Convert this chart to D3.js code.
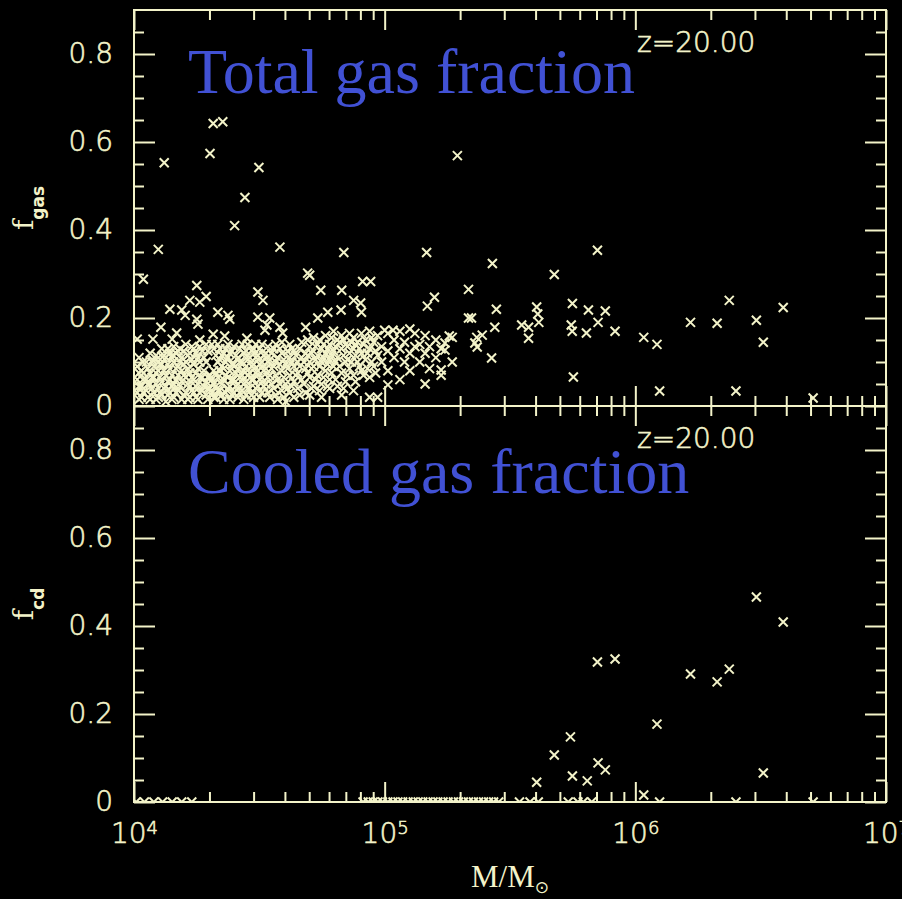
<!DOCTYPE html>
<html>
<head>
<meta charset="utf-8">
<script src="https://cdn.jsdelivr.net/npm/d3@7"></script>
<style>
  body { margin: 0; background: #000; }
  svg { display: block; }
  .axis text { fill: #f3f3c9; stroke: #f3f3c9; stroke-width: 0.6px; font-family: "DejaVu Sans", sans-serif; font-weight: 200; font-size: 28px; }
  .axis line { stroke: #f3f3c9; stroke-width: 2px; }
</style>
</head>
<body>
<div id="chart"></div>
<script>
// ---- data ----
const massTicks = [1e4, 1e5, 1e6, 1e7];
const fracTicks = [0, 0.2, 0.4, 0.6, 0.8];
const panelTitles = ['Total gas fraction', 'Cooled gas fraction'];
const yTitles = [['f', 'gas'], ['f', 'cd']];
const redshiftLabel = 'z=20.00';

// [halo mass (Msun), total gas fraction]
const totalGas = [
  // dense low-mass cloud
  [1.03e4,0.03],[1.03e4,0.06],[1.03e4,0.09],[1.07e4,0.02],[1.07e4,0.045],[1.07e4,0.08],
  [1.12e4,0.035],[1.12e4,0.06],[1.12e4,0.1],[1.16e4,0.015],[1.16e4,0.05],[1.16e4,0.075],[1.16e4,0.12],
  [1.2e4,0.03],[1.2e4,0.065],[1.2e4,0.09],[1.25e4,0.02],[1.25e4,0.04],[1.25e4,0.08],[1.25e4,0.11],
  [1.29e4,0.025],[1.29e4,0.055],[1.29e4,0.095],[1.29e4,0.13],[1.34e4,0.01],[1.34e4,0.045],[1.34e4,0.07],[1.34e4,0.11],
  [1.39e4,0.03],[1.39e4,0.06],[1.39e4,0.085],[1.39e4,0.12],[1.44e4,0.02],[1.44e4,0.05],[1.44e4,0.1],[1.44e4,0.135],
  [1.5e4,0.035],[1.5e4,0.07],[1.5e4,0.09],[1.5e4,0.125],[1.55e4,0.015],[1.55e4,0.055],[1.55e4,0.08],[1.55e4,0.11],
  [1.61e4,0.03],[1.61e4,0.065],[1.61e4,0.1],[1.61e4,0.14],[1.67e4,0.02],[1.67e4,0.045],[1.67e4,0.075],[1.67e4,0.12],
  [1.73e4,0.03],[1.73e4,0.06],[1.73e4,0.095],[1.73e4,0.13],[1.8e4,0.015],[1.8e4,0.05],[1.8e4,0.085],[1.8e4,0.11],
  [1.87e4,0.035],[1.87e4,0.065],[1.87e4,0.125],[1.94e4,0.025],[1.94e4,0.055],[1.94e4,0.1],[1.94e4,0.14],
  [2.01e4,0.04],[2.01e4,0.07],[2.08e4,0.02],[2.08e4,0.05],[2.08e4,0.08],[2.08e4,0.13],
  [2.16e4,0.035],[2.16e4,0.065],[2.16e4,0.1],[2.16e4,0.14],[2.24e4,0.025],[2.24e4,0.05],[2.24e4,0.09],[2.24e4,0.115],
  [2.32e4,0.03],[2.32e4,0.07],[2.32e4,0.1],[2.32e4,0.13],[2.41e4,0.015],[2.41e4,0.045],[2.41e4,0.08],[2.41e4,0.12],
  [2.5e4,0.03],[2.5e4,0.06],[2.5e4,0.095],[2.5e4,0.135],[2.6e4,0.02],[2.6e4,0.05],[2.6e4,0.085],[2.6e4,0.11],
  [2.7e4,0.035],[2.7e4,0.07],[2.7e4,0.1],[2.7e4,0.14],[2.8e4,0.025],[2.8e4,0.055],[2.8e4,0.09],[2.8e4,0.125],
  [2.9e4,0.04],[2.9e4,0.075],[2.9e4,0.11],[3.0e4,0.02],[3.0e4,0.06],[3.0e4,0.095],[3.0e4,0.13],
  [3.12e4,0.045],[3.12e4,0.08],[3.12e4,0.115],[3.24e4,0.03],[3.24e4,0.065],[3.24e4,0.1],[3.24e4,0.14],
  [3.36e4,0.05],[3.36e4,0.085],[3.36e4,0.12],[3.48e4,0.02],[3.48e4,0.07],[3.48e4,0.105],
  [3.61e4,0.04],[3.61e4,0.09],[3.61e4,0.13],[3.74e4,0.015],[3.74e4,0.06],[3.74e4,0.11],
  [3.89e4,0.035],[3.89e4,0.08],[3.89e4,0.12],[3.89e4,0.145],[4.03e4,0.01],[4.03e4,0.05],[4.03e4,0.095],
  [1.047e4,0.015],[1.047e4,0.045],[1.047e4,0.075],[1.047e4,0.11],[1.086e4,0.03],[1.086e4,0.06],[1.086e4,0.1],
  [1.137e4,0.02],[1.137e4,0.05],[1.137e4,0.085],[1.18e4,0.04],[1.18e4,0.065],[1.18e4,0.1],
  [1.224e4,0.015],[1.224e4,0.05],[1.224e4,0.075],[1.224e4,0.115],[1.269e4,0.03],[1.269e4,0.065],[1.269e4,0.095],
  [1.317e4,0.04],[1.317e4,0.08],[1.317e4,0.115],[1.365e4,0.025],[1.365e4,0.055],[1.365e4,0.095],[1.365e4,0.13],
  [1.417e4,0.015],[1.417e4,0.045],[1.417e4,0.07],[1.417e4,0.11],[1.47e4,0.03],[1.47e4,0.06],[1.47e4,0.085],[1.47e4,0.12],
  [1.525e4,0.045],[1.525e4,0.1],[1.525e4,0.13],[1.58e4,0.025],[1.58e4,0.07],[1.58e4,0.095],[1.58e4,0.125],
  [1.64e4,0.015],[1.64e4,0.05],[1.64e4,0.085],[1.64e4,0.115],[1.7e4,0.035],[1.7e4,0.065],[1.7e4,0.105],[1.7e4,0.135],
  [1.766e4,0.02],[1.766e4,0.045],[1.766e4,0.075],[1.766e4,0.12],[1.83e4,0.03],[1.83e4,0.065],[1.83e4,0.1],[1.83e4,0.135],
  [1.9e4,0.045],[1.9e4,0.08],[1.9e4,0.11],[1.97e4,0.015],[1.97e4,0.04],[1.97e4,0.065],[1.97e4,0.125],
  [2.045e4,0.03],[2.045e4,0.06],[2.045e4,0.14],[2.12e4,0.02],[2.12e4,0.045],[2.12e4,0.075],[2.12e4,0.115],
  [2.2e4,0.035],[2.2e4,0.08],[2.2e4,0.105],[2.2e4,0.13],[2.28e4,0.015],[2.28e4,0.06],[2.28e4,0.085],[2.28e4,0.12],
  [2.37e4,0.04],[2.37e4,0.065],[2.37e4,0.11],[2.37e4,0.14],[2.457e4,0.025],[2.457e4,0.06],[2.457e4,0.095],[2.457e4,0.125],
  [2.55e4,0.045],[2.55e4,0.075],[2.55e4,0.115],[2.64e4,0.03],[2.64e4,0.065],[2.64e4,0.1],[2.64e4,0.13],
  [2.74e4,0.015],[2.74e4,0.05],[2.74e4,0.08],[2.74e4,0.12],[2.84e4,0.04],[2.84e4,0.07],[2.84e4,0.105],[2.84e4,0.14],
  [2.95e4,0.025],[2.95e4,0.06],[2.95e4,0.09],[2.95e4,0.125],[3.06e4,0.04],[3.06e4,0.075],[3.06e4,0.11],[3.06e4,0.14],
  [3.17e4,0.02],[3.17e4,0.06],[3.17e4,0.095],[3.17e4,0.13],[3.29e4,0.045],[3.29e4,0.08],[3.29e4,0.115],
  [3.42e4,0.03],[3.42e4,0.065],[3.42e4,0.1],[3.42e4,0.135],[3.54e4,0.05],[3.54e4,0.085],[3.54e4,0.12],
  [3.68e4,0.025],[3.68e4,0.07],[3.68e4,0.1],[3.68e4,0.14],[3.82e4,0.05],[3.82e4,0.095],[3.82e4,0.13],
  [3.96e4,0.02],[3.96e4,0.065],[3.96e4,0.105],[4.1e4,0.04],[4.1e4,0.085],[4.1e4,0.125],
  // cloud thinning out towards 1e5
  [4.18e4,0.03],[4.18e4,0.07],[4.18e4,0.11],[4.18e4,0.14],[4.34e4,0.02],[4.34e4,0.055],[4.34e4,0.09],[4.34e4,0.125],
  [4.5e4,0.04],[4.5e4,0.075],[4.5e4,0.1],[4.67e4,0.06],[4.67e4,0.11],[4.67e4,0.145],
  [4.84e4,0.03],[4.84e4,0.085],[4.84e4,0.12],[5.02e4,0.025],[5.02e4,0.065],[5.02e4,0.1],[5.02e4,0.135],
  [5.2e4,0.045],[5.2e4,0.09],[5.2e4,0.155],[5.4e4,0.07],[5.4e4,0.115],[5.4e4,0.14],
  [5.6e4,0.02],[5.6e4,0.05],[5.6e4,0.1],[5.6e4,0.13],[5.81e4,0.08],[5.81e4,0.12],[5.81e4,0.16],
  [6.03e4,0.04],[6.03e4,0.06],[6.03e4,0.105],[6.03e4,0.14],[6.25e4,0.09],[6.25e4,0.125],[6.25e4,0.17],
  [6.48e4,0.045],[6.48e4,0.11],[6.48e4,0.15],[6.73e4,0.025],[6.73e4,0.075],[6.73e4,0.13],[6.73e4,0.16],
  [6.98e4,0.055],[6.98e4,0.1],[6.98e4,0.14],[7.24e4,0.085],[7.24e4,0.12],[7.24e4,0.165],
  [7.51e4,0.035],[7.51e4,0.07],[7.51e4,0.13],[7.51e4,0.155],[7.79e4,0.1],[7.79e4,0.145],
  [8.08e4,0.08],[8.08e4,0.12],[8.08e4,0.165],[8.38e4,0.105],[8.38e4,0.15],
  [8.71e4,0.02],[8.71e4,0.065],[8.71e4,0.13],[8.71e4,0.17],[9.03e4,0.09],[9.03e4,0.145],
  [9.37e4,0.02],[9.37e4,0.115],[9.37e4,0.16],[9.72e4,0.1],[9.72e4,0.135],
  [4.26e4,0.045],[4.26e4,0.1],[4.26e4,0.13],[4.42e4,0.07],[4.42e4,0.115],[4.58e4,0.025],[4.58e4,0.09],[4.58e4,0.13],
  [4.76e4,0.05],[4.76e4,0.1],[4.93e4,0.075],[4.93e4,0.115],[4.93e4,0.15],[5.11e4,0.04],[5.11e4,0.085],[5.11e4,0.12],
  [5.3e4,0.06],[5.3e4,0.105],[5.3e4,0.135],[5.5e4,0.035],[5.5e4,0.09],[5.5e4,0.15],[5.7e4,0.065],[5.7e4,0.11],[5.7e4,0.14],
  [5.92e4,0.045],[5.92e4,0.095],[5.92e4,0.13],[6.14e4,0.075],[6.14e4,0.115],[6.14e4,0.155],
  [6.37e4,0.06],[6.37e4,0.1],[6.37e4,0.135],[6.6e4,0.09],[6.6e4,0.145],[6.85e4,0.04],[6.85e4,0.115],[6.85e4,0.15],
  [7.1e4,0.07],[7.1e4,0.105],[7.1e4,0.135],[7.37e4,0.1],[7.37e4,0.145],[7.65e4,0.055],[7.65e4,0.115],[7.65e4,0.14],
  [7.94e4,0.09],[7.94e4,0.13],[8.23e4,0.07],[8.23e4,0.14],[8.54e4,0.085],[8.54e4,0.12],
  [8.87e4,0.1],[8.87e4,0.155],[9.2e4,0.075],[9.2e4,0.125],
  [1.03e5,0.048],[1.03e5,0.08],[1.03e5,0.125],[1.03e5,0.165],[1.09e5,0.11],[1.09e5,0.15],
  [1.15e5,0.06],[1.15e5,0.13],[1.15e5,0.17],[1.2e5,0.1],[1.2e5,0.145],[1.26e5,0.08],[1.26e5,0.12],
  [1.32e5,0.135],[1.32e5,0.165],[1.38e5,0.1],[1.38e5,0.14],[1.45e5,0.05],[1.45e5,0.12],[1.45e5,0.16],
  [1.51e5,0.085],[1.51e5,0.135],[1.6e5,0.11],[1.6e5,0.15],[1.68e5,0.07],[1.68e5,0.13],
  // scattered halos above the main cloud
  [1.09e4,0.288],[1.25e4,0.356],[1.32e4,0.553],[1.78e4,0.274],[1.67e4,0.24],[1.83e4,0.236],[1.94e4,0.249],
  [1.39e4,0.22],[1.55e4,0.218],[1.6e4,0.206],[1.78e4,0.197],[1.8e4,0.186],[2.16e4,0.213],[2.37e4,0.206],
  [2.41e4,0.197],[3.12e4,0.259],[3.27e4,0.24],[3.12e4,0.202],[3.48e4,0.2],[3.39e4,0.184],[3.33e4,0.172],
  [3.82e4,0.179],[3.92e4,0.166],[1.28e4,0.179],[1.03e4,0.152],[1.19e4,0.152],[1.42e4,0.152],[1.48e4,0.166],
  [1.83e4,0.15],[2.07e4,0.163],[2.3e4,0.159],[2.82e4,0.154],[1.19e4,0.104],[1.3e4,0.111],[1.43e4,0.116],
  [1.09e4,0.075],[2.07e4,0.642],[2.26e4,0.646],[2.01e4,0.574],[3.15e4,0.542],[2.77e4,0.474],[2.52e4,0.41],
  [3.82e4,0.361],[6.87e4,0.349],[1.47e5,0.349],[5.02e4,0.297],[4.93e4,0.302],[8.17e4,0.283],[8.79e4,0.283],
  [5.56e4,0.263],[6.74e4,0.263],[1.58e5,0.247],[1.48e5,0.227],[7.52e4,0.24],[8.02e4,0.234],[8.08e4,0.213],
  [6.7e4,0.218],[5.93e4,0.213],[5.41e4,0.2],[4.84e4,0.179],[1.26e5,0.175],[1.0e5,0.172],[1.08e5,0.172],
  [1.81e5,0.159],
  // high-mass halos
  [1.95e5,0.569],[7.06e5,0.354],[2.69e5,0.324],[4.75e5,0.299],[2.16e5,0.265],[2.37e6,0.24],[3.89e6,0.224],
  [2.79e5,0.22],[5.61e5,0.233],[6.5e5,0.218],[7.59e5,0.216],[4.04e5,0.225],[4.08e5,0.209],[4.12e5,0.19],
  [2.16e5,0.2],[2.22e5,0.2],[2.75e5,0.179],[3.52e5,0.184],[3.75e5,0.179],[3.75e5,0.154],[5.55e5,0.184],
  [5.6e5,0.17],[6.38e5,0.166],[7.1e5,0.19],[8.3e5,0.17],[1.66e6,0.19],[2.12e6,0.188],[3.04e6,0.195],
  [3.24e6,0.145],[1.08e6,0.156],[1.22e6,0.14],[2.67e5,0.109],[5.66e5,0.066],[1.25e6,0.034],[2.52e6,0.034],
  [5.12e6,0.018],[2.33e5,0.156],[2.29e5,0.143],[2.34e5,0.134],[2.45e5,0.161],[1.86e5,0.156],[1.86e5,0.1],
  [1.74e5,0.143],[1.74e5,0.127],[1.68e5,0.082]
];

// [halo mass (Msun), cooled gas fraction] for halos with cooled gas
const cooledGas = [
  [3.04e6,0.466],[3.89e6,0.409],[7.06e5,0.318],[8.3e5,0.325],[1.66e6,0.291],[2.12e6,0.273],[2.37e6,0.302],
  [1.22e6,0.177],[5.51e5,0.148],[4.75e5,0.107],[4.04e5,0.045],[5.61e5,0.059],[6.43e5,0.048],[7.1e5,0.089],
  [7.59e5,0.073],[3.24e6,0.066],[1.08e6,0.016]
];

// halos sitting at f_cd = 0 along the bottom axis
const cooledZeroMass = [
  1.02e4,1.1e4,1.2e4,1.3e4,1.42e4,1.55e4,1.7e4,
  8.2e4,8.6e4,9.0e4,9.4e4,9.8e4,1.03e5,1.08e5,1.13e5,1.18e5,1.24e5,1.3e5,1.36e5,1.42e5,1.49e5,1.56e5,
  1.63e5,1.71e5,1.79e5,1.88e5,1.97e5,2.06e5,2.16e5,2.26e5,2.37e5,2.48e5,2.6e5,2.72e5,2.85e5,
  3.45e5,3.8e5,4.1e5,5.4e5,5.9e5,6.2e5,6.7e5,1.25e6,2.52e6,5.12e6
];

const cream = '#f3f3c9';
const blue = '#4151d4';

const svg = d3.select('#chart').append('svg')
    .attr('width', 902)
    .attr('height', 899);

svg.append('rect').attr('width', 902).attr('height', 899).attr('fill', '#000');

const x = d3.scaleLog().domain([1e4, 1e7]).range([134, 886]);

const panels = [
    { y: d3.scaleLinear().domain([0, 0.9]).range([406, 10]), data: totalGas, titleY: 93 },
    { y: d3.scaleLinear().domain([0, 0.9]).range([802, 406]),
      data: cooledGas.concat(cooledZeroMass.map(m => [m, 0])), titleY: 493 }
];

const minorY = d3.range(1, 18).filter(i => i % 4 !== 0).map(i => i * 0.05);
const minorX = [];
[1e4, 1e5, 1e6].forEach(dec => {
    for (let k = 2; k <= 9; k++) minorX.push(k * dec);
});

const noDomain = g => g.select('.domain').remove();

panels.forEach((p, i) => {
    const [yBot, yTop] = p.y.range();
    const g = svg.append('g');

    g.append('clipPath').attr('id', 'clip' + i)
        .append('rect')
        .attr('x', 134).attr('y', yTop)
        .attr('width', 752).attr('height', yBot - yTop);

    // x markers
    g.append('g')
        .attr('clip-path', `url(#clip${i})`)
        .selectAll('path')
        .data(p.data)
        .join('path')
        .attr('transform', d => `translate(${x(d[0])},${p.y(d[1])})`)
        .attr('d', 'M-4.5,-4.5L4.5,4.5M-4.5,4.5L4.5,-4.5')
        .attr('stroke', cream)
        .attr('stroke-width', 2)
        .attr('fill', 'none');

    // left axis, labelled
    g.append('g').attr('class', 'axis')
        .attr('transform', 'translate(134,0)')
        .call(d3.axisLeft(p.y).tickValues(fracTicks).tickSize(-21).tickPadding(21)
            .tickFormat(d => d === 0 ? '0' : d.toFixed(1)))
        .call(noDomain);
    g.append('g').attr('class', 'axis')
        .attr('transform', 'translate(134,0)')
        .call(d3.axisLeft(p.y).tickValues(minorY).tickSize(-10).tickFormat(''))
        .call(noDomain);

    // right axis, ticks only
    g.append('g').attr('class', 'axis')
        .attr('transform', 'translate(886,0)')
        .call(d3.axisRight(p.y).tickValues(fracTicks).tickSize(-21).tickFormat(''))
        .call(noDomain);
    g.append('g').attr('class', 'axis')
        .attr('transform', 'translate(886,0)')
        .call(d3.axisRight(p.y).tickValues(minorY).tickSize(-10).tickFormat(''))
        .call(noDomain);

    // top and bottom ticks
    g.append('g').attr('class', 'axis')
        .attr('transform', `translate(0,${yTop})`)
        .call(d3.axisTop(x).tickValues(massTicks).tickSize(-20).tickFormat(''))
        .call(noDomain);
    g.append('g').attr('class', 'axis')
        .attr('transform', `translate(0,${yTop})`)
        .call(d3.axisTop(x).tickValues(minorX).tickSize(-10).tickFormat(''))
        .call(noDomain);
    const xb = g.append('g').attr('class', 'axis')
        .attr('transform', `translate(0,${yBot})`)
        .call(d3.axisBottom(x).tickValues(massTicks).tickSize(-20).tickPadding(21).tickFormat(''))
        .call(noDomain);
    g.append('g').attr('class', 'axis')
        .attr('transform', `translate(0,${yBot})`)
        .call(d3.axisBottom(x).tickValues(minorX).tickSize(-10).tickFormat(''))
        .call(noDomain);

    if (i === 1) {
        xb.selectAll('.tick text').each(function(d) {
            const t = d3.select(this);
            t.append('tspan').text('10');
            t.append('tspan').attr('dy', '-9px').attr('font-size', '18px')
                .text(Math.round(Math.log10(d)));
        });
    }

    // frame
    g.append('rect')
        .attr('x', 134).attr('y', yTop)
        .attr('width', 752).attr('height', yBot - yTop)
        .attr('fill', 'none')
        .attr('stroke', cream)
        .attr('stroke-width', 2);

    // y title
    const yt = g.append('text')
        .attr('transform', `translate(33,${(yTop + yBot) / 2}) rotate(-90)`)
        .attr('text-anchor', 'middle')
        .attr('fill', cream)
        .attr('font-family', 'DejaVu Serif, serif')
        .attr('font-size', 28);
    yt.append('tspan').text(yTitles[i][0]);
    yt.append('tspan').attr('dy', 11).attr('font-size', 17)
        .attr('font-family', 'DejaVu Sans, sans-serif').attr('font-weight', 'bold')
        .text(yTitles[i][1]);

    // redshift
    g.append('text')
        .attr('x', 637).attr('y', yTop + 42)
        .attr('fill', cream)
        .attr('stroke', cream)
        .attr('stroke-width', 0.6)
        .attr('font-family', 'DejaVu Sans, sans-serif')
        .attr('font-weight', 200)
        .attr('font-size', 28)
        .text(redshiftLabel);

    // panel title
    g.append('text')
        .attr('x', 188).attr('y', p.titleY)
        .attr('fill', blue)
        .attr('font-family', 'Liberation Serif, Times New Roman, serif')
        .attr('font-size', 64)
        .text(panelTitles[i]);
});

// x title
const xt = svg.append('text')
    .attr('x', 510).attr('y', 887)
    .attr('text-anchor', 'middle')
    .attr('fill', cream)
    .attr('font-family', 'Liberation Serif, serif')
    .attr('font-size', 31);
xt.append('tspan').text('M/M');
xt.append('tspan').attr('dy', 6).attr('font-size', 17)
    .attr('font-family', 'DejaVu Sans, sans-serif').text('\u2299');
</script>
</body>
</html>
